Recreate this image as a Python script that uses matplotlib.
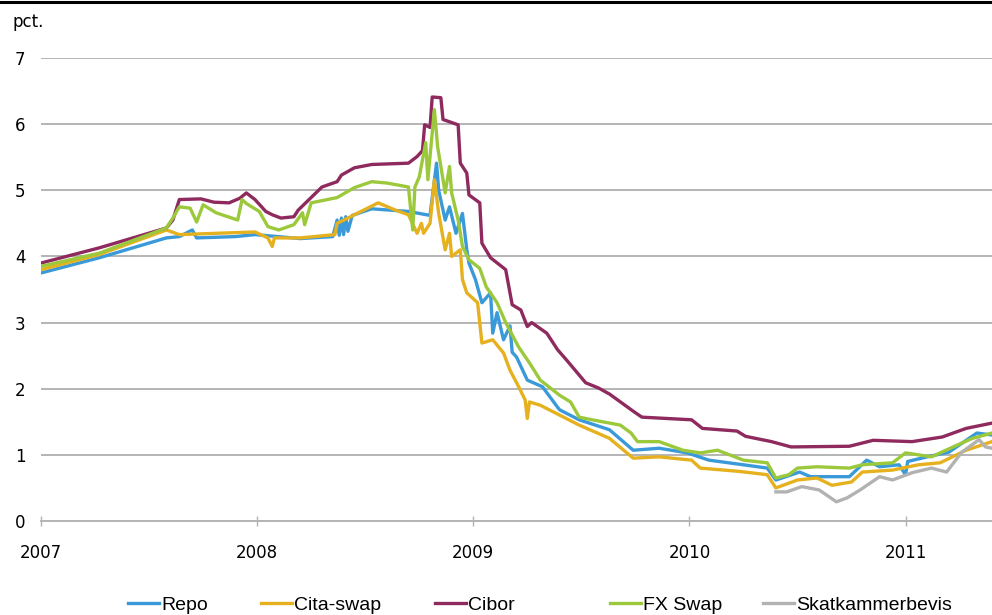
import matplotlib
matplotlib.use('Agg')
import matplotlib.pyplot as plt
from matplotlib.lines import Line2D

plt.rcParams['font.family'] = ['DejaVu Sans']

# Data (x = decimal year, y = pct.)

repo_t = [2007.00, 2007.27, 2007.58, 2007.64, 2007.70, 2007.72, 2007.90, 2007.99, 2008.20, 2008.35,
          2008.37, 2008.38, 2008.39, 2008.40, 2008.41, 2008.42, 2008.44, 2008.53, 2008.70, 2008.75,
          2008.80, 2008.83, 2008.84, 2008.87, 2008.89, 2008.92, 2008.95, 2008.97, 2008.98, 2009.01,
          2009.04, 2009.08, 2009.09, 2009.11, 2009.14, 2009.17, 2009.18, 2009.20, 2009.25, 2009.32,
          2009.39, 2009.40, 2009.49, 2009.63, 2009.74, 2009.86, 2009.99, 2010.09, 2010.25, 2010.36,
          2010.40, 2010.51, 2010.56, 2010.74, 2010.82, 2010.88, 2010.97, 2011.00, 2011.01, 2011.10,
          2011.20, 2011.33, 2011.40]
repo_v = [3.75, 3.98, 4.28, 4.30, 4.40, 4.28, 4.30, 4.33, 4.27, 4.30,
          4.55, 4.32, 4.58, 4.33, 4.60, 4.38, 4.62, 4.72, 4.68, 4.65,
          4.62, 5.41, 5.00, 4.55, 4.75, 4.35, 4.65, 4.10, 3.90, 3.65,
          3.30, 3.45, 2.84, 3.15, 2.74, 2.95, 2.55, 2.48, 2.13, 2.03,
          1.72, 1.68, 1.53, 1.38, 1.07, 1.10, 1.03, 0.92, 0.85, 0.80,
          0.62, 0.74, 0.67, 0.67, 0.92, 0.82, 0.85, 0.70, 0.90, 0.97,
          1.04, 1.33, 1.30]

cita_t = [2007.00, 2007.27, 2007.58, 2007.64, 2007.99, 2008.05, 2008.07, 2008.08, 2008.20, 2008.36,
          2008.37, 2008.45, 2008.56, 2008.64, 2008.70, 2008.74, 2008.76, 2008.77, 2008.80, 2008.82,
          2008.84, 2008.87, 2008.89, 2008.90, 2008.94, 2008.95, 2008.97, 2009.02, 2009.04, 2009.09,
          2009.14, 2009.17, 2009.21, 2009.24, 2009.25, 2009.26, 2009.31, 2009.40, 2009.49, 2009.63,
          2009.74, 2009.86, 2010.01, 2010.05, 2010.23, 2010.36, 2010.40, 2010.50, 2010.59, 2010.66,
          2010.75, 2010.80, 2010.94, 2011.06, 2011.16, 2011.28, 2011.40]
cita_v = [3.80, 4.03, 4.40, 4.33, 4.37, 4.28, 4.15, 4.28, 4.28, 4.33,
          4.50, 4.63, 4.81, 4.70, 4.63, 4.35, 4.50, 4.35, 4.50, 5.16,
          4.65, 4.10, 4.35, 4.00, 4.10, 3.65, 3.45, 3.30, 2.69, 2.74,
          2.54, 2.28, 2.03, 1.83, 1.55, 1.80, 1.75, 1.60, 1.45, 1.25,
          0.95, 0.97, 0.92, 0.80, 0.75, 0.70, 0.50, 0.62, 0.65, 0.54,
          0.59, 0.74, 0.77, 0.85, 0.88, 1.07, 1.20]

cibor_t = [2007.00, 2007.27, 2007.58, 2007.61, 2007.64, 2007.74, 2007.80, 2007.87, 2007.92, 2007.95,
           2007.99, 2008.04, 2008.07, 2008.11, 2008.17, 2008.19, 2008.30, 2008.37, 2008.39, 2008.45,
           2008.53, 2008.70, 2008.74, 2008.765, 2008.775, 2008.80, 2008.81, 2008.85, 2008.86, 2008.93,
           2008.94, 2008.97, 2008.98, 2009.03, 2009.04, 2009.08, 2009.15, 2009.18, 2009.22, 2009.25,
           2009.27, 2009.34, 2009.39, 2009.43, 2009.52, 2009.58, 2009.63, 2009.74, 2009.78, 2010.01,
           2010.06, 2010.22, 2010.26, 2010.38, 2010.47, 2010.74, 2010.85, 2011.03, 2011.17, 2011.28,
           2011.40]
cibor_v = [3.90, 4.13, 4.43, 4.55, 4.86, 4.87, 4.82, 4.81, 4.88, 4.96,
           4.86, 4.68, 4.63, 4.58, 4.60, 4.70, 5.05, 5.13, 5.23, 5.34,
           5.39, 5.41, 5.51, 5.60, 5.99, 5.95, 6.41, 6.40, 6.07, 5.99,
           5.41, 5.26, 4.93, 4.81, 4.20, 3.98, 3.80, 3.27, 3.19, 2.94,
           3.00, 2.84, 2.59, 2.44, 2.09, 2.01, 1.92, 1.66, 1.57, 1.53,
           1.40, 1.36, 1.28, 1.20, 1.12, 1.13, 1.22, 1.20, 1.27, 1.40,
           1.48]

fx_t = [2007.00, 2007.27, 2007.58, 2007.61, 2007.64, 2007.69, 2007.72, 2007.75, 2007.81, 2007.91,
        2007.93, 2007.95, 2008.01, 2008.05, 2008.10, 2008.17, 2008.21, 2008.22, 2008.25, 2008.37,
        2008.45, 2008.53, 2008.60, 2008.70, 2008.72, 2008.73, 2008.75, 2008.78, 2008.79, 2008.82,
        2008.835, 2008.85, 2008.87, 2008.89, 2008.90, 2008.93, 2008.95, 2008.98, 2009.03, 2009.06,
        2009.11, 2009.15, 2009.21, 2009.26, 2009.31, 2009.40, 2009.45, 2009.49, 2009.55, 2009.68,
        2009.73, 2009.76, 2009.86, 2009.97, 2010.05, 2010.13, 2010.25, 2010.36, 2010.40, 2010.46,
        2010.50, 2010.59, 2010.74, 2010.80, 2010.94, 2011.00, 2011.06, 2011.12, 2011.22, 2011.31,
        2011.40]
fx_v = [3.85, 4.05, 4.43, 4.58, 4.75, 4.73, 4.52, 4.78, 4.66, 4.55,
        4.86, 4.80, 4.68, 4.45, 4.40, 4.48, 4.66, 4.48, 4.81, 4.89,
        5.04, 5.13, 5.11, 5.05, 4.40, 5.05, 5.20, 5.72, 5.16, 6.22,
        5.66, 5.36, 4.96, 5.36, 4.96, 4.55, 4.15, 3.95, 3.82, 3.54,
        3.30, 3.00, 2.63, 2.39, 2.13, 1.90, 1.80, 1.57, 1.53, 1.45,
        1.33, 1.20, 1.20, 1.07, 1.03, 1.07, 0.92, 0.88, 0.65, 0.70,
        0.80, 0.82, 0.80, 0.85, 0.88, 1.03, 1.00, 0.97, 1.12, 1.25,
        1.33]

skat_t = [2010.40, 2010.45, 2010.52, 2010.60, 2010.68, 2010.73, 2010.79, 2010.88, 2010.94, 2011.03,
          2011.12, 2011.19, 2011.26, 2011.34, 2011.37, 2011.40]
skat_v = [0.44, 0.44, 0.52, 0.47, 0.29, 0.35, 0.47, 0.67, 0.62, 0.73,
          0.80, 0.74, 1.04, 1.23, 1.12, 1.10]

years = [2007, 2008, 2009, 2010, 2011]

series = [
    ('Repo', repo_t, repo_v, '#3a9ad9'),
    ('Cita-swap', cita_t, cita_v, '#e6b11f'),
    ('Cibor', cibor_t, cibor_v, '#8e2a5e'),
    ('FX Swap', fx_t, fx_v, '#9cc93b'),
    ('Skatkammerbevis', skat_t, skat_v, '#b2b2b2'),
]


fig = plt.figure(figsize=(9.92, 6.15), dpi=100)
ax = fig.add_axes([41 / 992, 94 / 615, 951 / 992, 463 / 615])

lines = []
for name, t, v, col in series:
    ln, = ax.plot(t, v, color=col, linewidth=2.4, label=name, solid_joinstyle='round', zorder=3)
    lines.append(ln)

ax.set_xlim(2007.0, 2011.40)
ax.set_ylim(0, 7)
ax.set_yticks(range(0, 8))
ax.yaxis.grid(True, color='#b4b4b4', linewidth=1.4)
ax.set_axisbelow(True)
for s in ['top', 'right', 'left']:
    ax.spines[s].set_visible(False)
ax.spines['bottom'].set_color('#b4b4b4')
ax.spines['bottom'].set_linewidth(1.4)
ax.tick_params(axis='y', length=0, pad=15, labelsize=12)
for lab in ax.get_yticklabels():
    lab.set_horizontalalignment('center')
ax.set_xticks(years)
ax.set_xticklabels([str(y) for y in years])
ax.tick_params(axis='x', direction='inout', length=7, width=1, color='#b4b4b4',
               pad=13, labelsize=12)

fig.text(12 / 992, 1 - 22 / 615, 'pct.', fontsize=12, va='center', ha='left')

# black rule across the top
fig.add_artist(Line2D([0, 1], [1 - 2 / 615, 1 - 2 / 615], color='black', linewidth=2.2,
                      transform=fig.transFigure))

# legend entries along the bottom edge
leg_x = [128, 261, 435, 610, 763]
for ln, lx in zip(lines, leg_x):
    fig.legend(handles=[ln], loc='center left', bbox_to_anchor=(lx / 992, 10 / 615),
               frameon=False, handlelength=1.6, handletextpad=0.1, borderaxespad=0,
               borderpad=0, prop={'family': ['Liberation Sans Narrow', 'Liberation Sans'], 'size': 14})

fig.savefig('out.png', dpi=100)
